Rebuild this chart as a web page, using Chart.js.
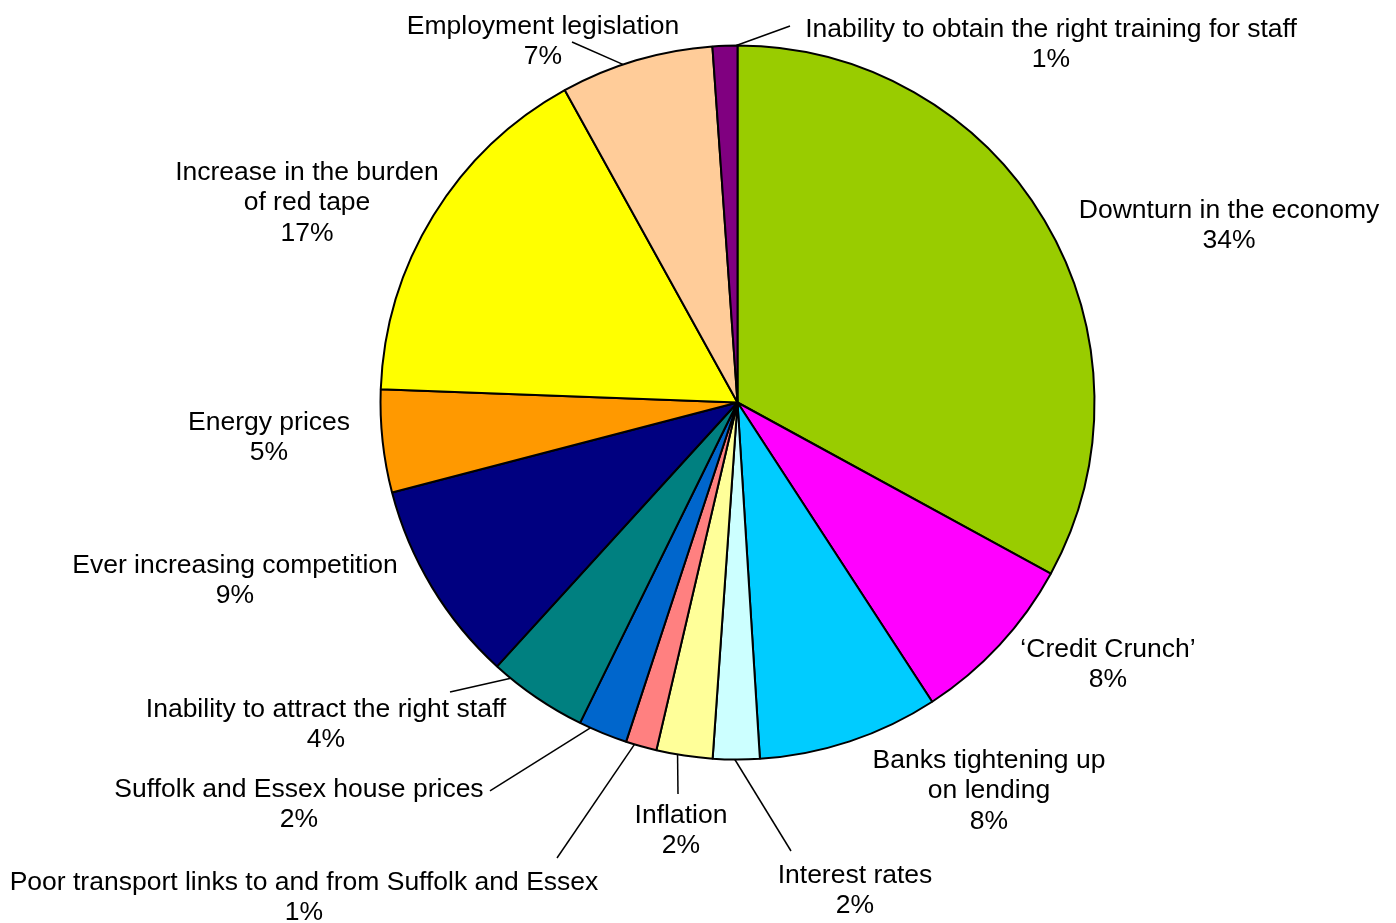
<!DOCTYPE html>
<html><head><meta charset="utf-8">
<script src="https://cdn.jsdelivr.net/npm/chart.js@4/dist/chart.umd.min.js"></script>
<style>html,body{margin:0;padding:0;background:#fff;} #wrap{width:1396px;height:923px;position:relative;}</style>
</head><body><div id="wrap"><canvas id="c"></canvas></div>
<script>
// ---- data ----
const categories = [
  'Downturn in the economy',
  '\u2018Credit Crunch\u2019',
  'Banks tightening up\non lending',
  'Interest rates',
  'Inflation',
  'Poor transport links to and from Suffolk and Essex',
  'Suffolk and Essex house prices',
  'Inability to attract the right staff',
  'Ever increasing competition',
  'Energy prices',
  'Increase in the burden\nof red tape',
  'Employment legislation',
  'Inability to obtain the right training for staff'
];
const shares = [32.96, 7.86, 8.18, 2.11, 2.54, 1.40, 2.22, 4.49, 9.18, 4.65, 16.37, 6.92, 1.12];
const percentLabels = ['34%','8%','8%','2%','2%','1%','2%','4%','9%','5%','17%','7%','1%'];

// ---- styles / layout ----
const sliceColors = ['#99CC00','#FF00FF','#00CCFF','#CCFFFF','#FFFF99','#FF8080','#0066CC','#008080','#000080','#FF9900','#FFFF00','#FFCC99','#800080'];
// label first-line centre, relative to pie centre in units of radius
const labelPos = [
  [1.3768,-0.5420],[1.0378,0.6877],[0.7045,0.9986],[0.3291,1.3207],[-0.1583,1.1527],
  [-1.2143,1.3403],[-1.2283,1.0798],[-1.1527,0.8557],[-1.4076,0.4524],[-1.3123,0.0518],
  [-1.2059,-0.6485],[-0.5448,-1.0574],[0.8782,-1.0490]
];
// leader lines: [fraction along slice arc, end x, end y] (relative units) or null
const leaders = [
  null,null,null,
  [0.53,0.1499,1.2563],
  [0.62,-0.1667,1.0966],
  [0.72,-0.5056,1.2759],
  [0.77,-0.6933,1.0882],
  [0.82,-0.8053,0.8109],
  null,null,null,
  [0.41,-0.4636,-1.0098],
  [0.95,0.1471,-1.0546]
];
const FONT = '26.5px "Liberation Sans", Arial, sans-serif';
const LINE_H = 30.5;
const TEXT_DY = 1.5;

const labelPlugin = {
  id: 'pieLabels',
  afterDatasetsDraw(chart) {
    const ctx = chart.ctx;
    const meta = chart.getDatasetMeta(0);
    ctx.save();
    meta.data.forEach((arc, i) => {
      const p = arc.getProps(['x','y','outerRadius','startAngle','endAngle'], true);
      const R = p.outerRadius;
      const ld = leaders[i];
      if (ld) {
        const a = p.startAngle + ld[0] * (p.endAngle - p.startAngle);
        ctx.beginPath();
        ctx.strokeStyle = '#000';
        ctx.lineWidth = 1.5;
        ctx.moveTo(p.x + R * Math.cos(a), p.y + R * Math.sin(a));
        ctx.lineTo(p.x + ld[1] * R, p.y + ld[2] * R);
        ctx.stroke();
      }
      const lines = categories[i].split('\n').concat([percentLabels[i]]);
      const lx = p.x + labelPos[i][0] * R;
      const ly = p.y + labelPos[i][1] * R + TEXT_DY;
      ctx.font = FONT;
      ctx.fillStyle = '#000';
      ctx.textAlign = 'center';
      ctx.textBaseline = 'middle';
      lines.forEach((t, k) => ctx.fillText(t, lx, ly + k * LINE_H));
    });
    ctx.restore();
  }
};

new Chart(document.getElementById('c'), {
  type: 'pie',
  data: {
    labels: categories,
    datasets: [{
      data: shares,
      backgroundColor: sliceColors,
      borderColor: '#000',
      borderWidth: 2,
      radius: 357,
      hoverOffset: 0
    }]
  },
  options: {
    responsive: true,
    maintainAspectRatio: false,
    animation: false,
    events: [],
    layout: { padding: { left: 79, right: 0, top: 0, bottom: 118 } },
    plugins: { legend: { display: false }, tooltip: { enabled: false } }
  },
  plugins: [labelPlugin]
});
</script>
</body></html>
